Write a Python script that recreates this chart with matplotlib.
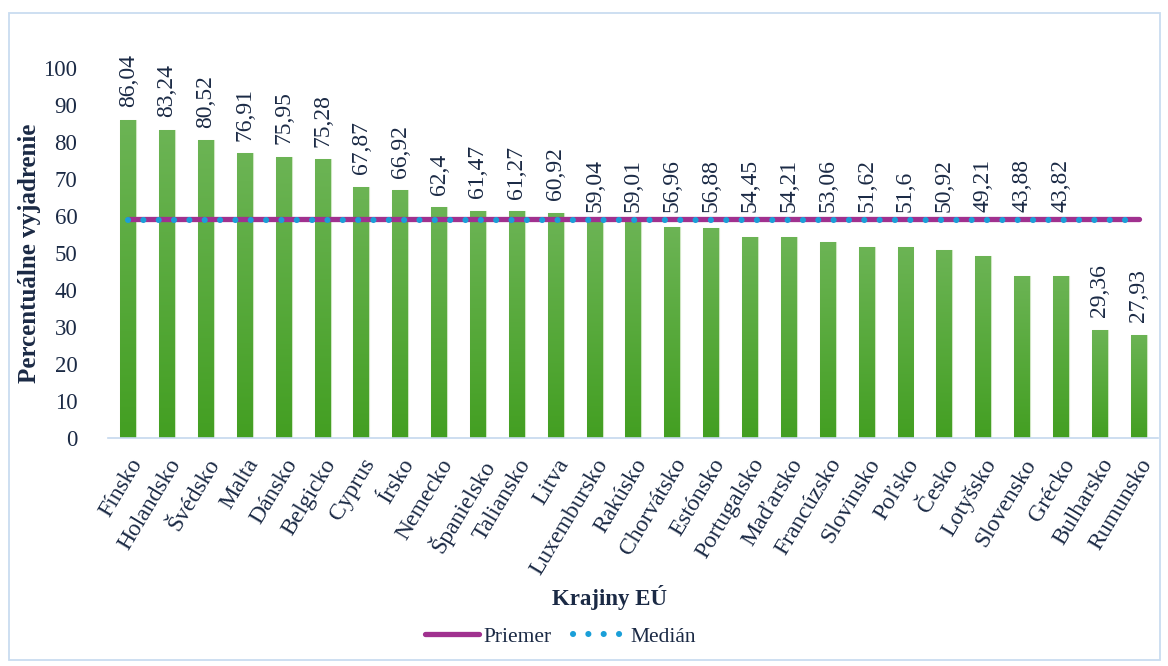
import matplotlib
matplotlib.use("Agg")
import matplotlib.pyplot as plt
import numpy as np
from matplotlib.patches import Rectangle
from matplotlib.colors import LinearSegmentedColormap

# data
krajiny = ["Fínsko", "Holandsko", "Švédsko", "Malta", "Dánsko", "Belgicko", "Cyprus",
           "Írsko", "Nemecko", "Španielsko", "Taliansko", "Litva", "Luxembursko",
           "Rakúsko", "Chorvátsko", "Estónsko", "Portugalsko", "Maďarsko", "Francúzsko",
           "Slovinsko", "Poľsko", "Česko", "Lotyšsko", "Slovensko", "Grécko",
           "Bulharsko", "Rumunsko"]
hodnoty = [86.04, 83.24, 80.52, 76.91, 75.95, 75.28, 67.87, 66.92, 62.4, 61.47,
           61.27, 60.92, 59.04, 59.01, 56.96, 56.88, 54.45, 54.21, 53.06, 51.62,
           51.6, 50.92, 49.21, 43.88, 43.82, 29.36, 27.93]
priemer = 59.29
median = 59.01
y_ticks = [0, 10, 20, 30, 40, 50, 60, 70, 80, 90, 100]

text_color = "#1b2a45"
plt.rcParams['font.family'] = ['Liberation Serif', 'DejaVu Serif']

fig = plt.figure(figsize=(11.68, 6.66), dpi=100)
ax = fig.add_axes([0.0925, 0.342, 0.899, 0.556])

x = np.arange(len(krajiny))
bw = 0.41
bars = ax.bar(x, hodnoty, width=bw, color="#55a935", edgecolor="#cfe6c2",
              linewidth=0.8, zorder=2)

# vertical gradient inside every bar
grad = LinearSegmentedColormap.from_list("g", ["#439f22", "#6cb455"])
gimg = np.linspace(0, 1, 256).reshape(-1, 1)
for b in bars:
    im = ax.imshow(gimg, cmap=grad, origin="lower", aspect="auto",
                   extent=[b.get_x(), b.get_x() + b.get_width(), 0, b.get_height()],
                   zorder=2.1)
    im.set_clip_path(b)

# labels of bars just under the average line sit above the line
for xi, v in zip(x, hodnoty):
    if 40 < v < priemer:
        base, off = priemer, 5
    else:
        base, off = v, 9
    ax.annotate(f"{v:g}".replace(".", ","), (xi, base), xytext=(0, off),
                textcoords="offset points", rotation=90, ha="center", va="bottom",
                fontsize=17, color=text_color, annotation_clip=False)

ax.plot(x, [priemer] * len(x), color="#a0318f", linewidth=3.8,
        solid_capstyle="round", label="Priemer", zorder=3)
ax.plot(x, [median] * len(x), color="#1a9fd8", linewidth=4.4,
        linestyle=(0, (0.01, 2.5)), dash_capstyle="round", label="Medián", zorder=4)

ax.set_xlim(-0.52, len(x) - 0.5)
ax.set_ylim(0, 100)
ax.set_yticks(y_ticks)
ax.set_xticks(x)
ax.set_xticklabels(krajiny, rotation=59, ha="right", rotation_mode="anchor")
ax.tick_params(axis="both", length=0, labelsize=16.5, labelcolor=text_color)
ax.tick_params(axis="x", labelsize=17, pad=12)
ax.tick_params(axis="y", pad=22)
for s in ["top", "right", "left"]:
    ax.spines[s].set_visible(False)
ax.spines["bottom"].set_color("#c5d8ee")
ax.spines["bottom"].set_linewidth(1.2)

ax.set_ylabel("Percentuálne vyjadrenie", fontsize=18, fontweight="bold",
              color=text_color)
ax.yaxis.set_label_coords(-0.064, 0.5)
fig.text(0.522, 0.103, "Krajiny EÚ", fontsize=16.5, fontweight="bold",
         color=text_color, ha="center", va="center")

leg = fig.legend(loc="center", bbox_to_anchor=(0.48, 0.044), ncol=2, frameon=False,
                 fontsize=15.5, handlelength=2.5, columnspacing=1.0, handletextpad=0.2)
for t in leg.get_texts():
    t.set_color(text_color)

fig.patches.append(Rectangle((0.008, 0.009), 0.985, 0.971, transform=fig.transFigure,
                             fill=False, edgecolor="#c9dcf0", linewidth=1.3))

fig.savefig("out.png", dpi=100)
